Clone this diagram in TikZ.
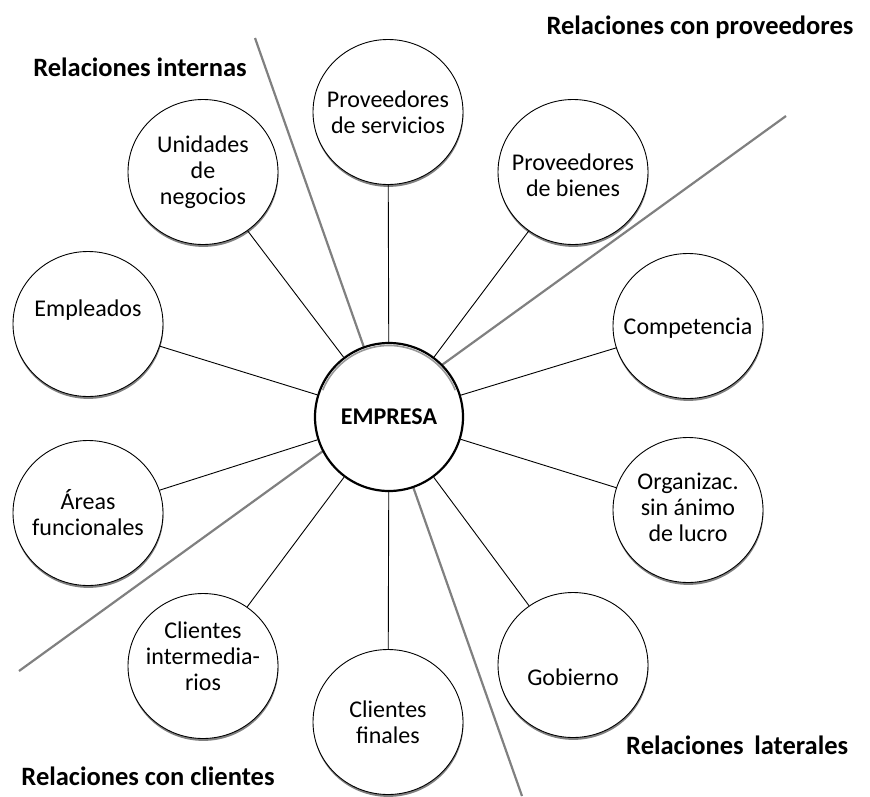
\documentclass[tikz,border=0pt]{standalone}
\usepackage{fontspec}
\setmainfont{Carlito}
\usetikzlibrary{shapes.geometric,shadows}
\pgfdeclarelayer{bg}
\pgfsetlayers{bg,main}
\tikzset{
  bub/.style={ellipse, draw=black, line width=0.9pt, fill=white,
    minimum width=150pt, minimum height=145pt, inner sep=0pt,
    drop shadow={shadow xshift=0.4pt, shadow yshift=-2.4pt, fill=black!50, opacity=1}},
  core/.style={circle, draw=black, line width=2.2pt, fill=white,
    minimum size=148pt, inner sep=0pt,
    font=\fontsize{24}{26}\selectfont\bfseries},
  lbl/.style={align=center, inner sep=0pt, font=\fontsize{24}{26}\selectfont},
  ttl/.style={inner sep=0pt, font=\fontsize{26.5}{28}\selectfont\bfseries},
  conn/.style={draw=black, line width=0.9pt},
  divider/.style={draw=black!50, line width=2.2pt},
  innershade/.style={draw=black!40, line width=1.6pt},
}
\begin{document}
\begin{tikzpicture}[x=1pt, y=-1pt]
\useasboundingbox (0,0) rectangle (870,796);
% centre
\node[core] (E) at (389,417) {EMPRESA};
\draw[innershade] (E.center) ++(-158:71.5) arc[start angle=-158, end angle=-22, radius=71.5];
% outer bubbles
\node[bub] (ps)  at (388,112) {};
\node[bub] (pb)  at (573,172) {};
\node[bub] (comp) at (688,326) {};
\node[bub] (org) at (688,510) {};
\node[bub] (gob) at (573,665) {};
\node[bub] (cf)  at (388,722) {};
\node[bub] (ci)  at (203,666) {};
\node[bub] (af)  at (88,513) {};
\node[bub] (emp) at (88,324) {};
\node[bub] (un)  at (203,172) {};
% labels
\node[lbl] (tps) at (ps) {Proveedores\\de servicios};
\node[lbl] (tpb) at ([yshift=-3pt]pb.center) {Proveedores\\de bienes};
\node[lbl] (tcomp) at ([yshift=-2pt]comp.center) {Competencia};
\node[lbl] (torg) at ([yshift=3pt]org.center) {Organizac.\\sin ánimo\\de lucro};
\node[lbl] (tgob) at ([yshift=-12pt]gob.center) {Gobierno};
\node[lbl] (tcf) at (cf) {Clientes\\finales};
\node[lbl] (tci) at ([yshift=10pt]ci.center) {Clientes\\intermedia-\\rios};
\node[lbl] (taf) at (af) {Áreas\\funcionales};
\node[lbl] (temp) at ([yshift=14pt]emp.center) {Empleados};
\node[lbl] (tun) at (un) {Unidades\\de\\negocios};
% titles
\node[ttl] (t1) at (700,27) {Relaciones con proveedores};
\node[ttl] (t2) at (140,67) {Relaciones internas};
\node[ttl, anchor=west] (t3) at (626,745) {Relaciones\hspace{0.4em}laterales};
\node[ttl] (t4) at (148,776) {Relaciones con clientes};
% divider end points
\coordinate (d1a) at (255,38);
\coordinate (d1b) at (522,796);
\coordinate (d2a) at (786,116);
\coordinate (d2b) at (19,671);
\begin{pgfonlayer}{bg}
\draw[divider] (d1a) -- (d1b);
\draw[divider] (d2a) -- (d2b);
\end{pgfonlayer}
% connectors
\foreach \n in {ps,pb,comp,org,gob,cf,ci,af,emp,un}
  \draw[conn] (E) -- (\n);
\end{tikzpicture}
\end{document}
